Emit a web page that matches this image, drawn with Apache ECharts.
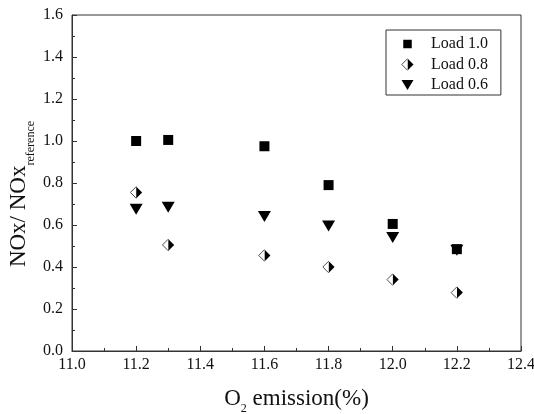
<!DOCTYPE html>
<html>
<head>
<meta charset="utf-8">
<script src="https://cdn.jsdelivr.net/npm/echarts@6/dist/echarts.min.js"></script>
<style>
  html, body { margin: 0; padding: 0; background: #fff; }
  #chart { width: 534px; height: 414px; }
</style>
</head>
<body>
<div id="chart"></div>
<script>
// O2 emission (%) at each operating point
const o2Emission = [11.2, 11.3, 11.6, 11.8, 12.0, 12.2];
// Normalised NOx for each load level
const load10 = [1.0, 1.005, 0.975, 0.79, 0.605, 0.485];
const load08 = [0.755, 0.505, 0.455, 0.40, 0.34, 0.278];
const load06 = [0.675, 0.685, 0.64, 0.595, 0.54, 0.48];
const seriesNames = ['Load 1.0', 'Load 0.8', 'Load 0.6'];
const xTicks = { min: 11.0, max: 12.4, step: 0.2 };
const yTicks = { min: 0.0, max: 1.6, step: 0.2 };

const FONT = '"Liberation Serif", "DejaVu Serif", serif';

function svgIcon(body) {
  const svg = "<svg xmlns='http://www.w3.org/2000/svg' width='26' height='26' viewBox='0 0 26 26'>" + body + "</svg>";
  return 'image://data:image/svg+xml;charset=utf-8,' + encodeURIComponent(svg);
}
// half-filled diamond: open left half, solid right half
const halfDiamond = svgIcon(
  "<path d='M13 1 L25 13 L13 25 Z' fill='#000'/>" +
  "<path d='M13 1.5 L1.5 13 L13 24.5' fill='#fff' stroke='#000' stroke-width='1.4'/>"
);
const squareIcon = svgIcon("<rect x='4.5' y='4.5' width='17' height='17' fill='#000'/>");
const triDownIcon = svgIcon("<path d='M1 3 L25 3 L13 23 Z' fill='#000'/>");

const pairs = ys => o2Emission.map((x, i) => [x, ys[i]]);
const fmt1 = v => v.toFixed(1);

const axisColor = '#333';

const chart = echarts.init(document.getElementById('chart'), null, { renderer: 'canvas' });
chart.setOption({
  animation: false,
  backgroundColor: '#fff',
  grid: {
    left: 72, top: 15, right: 13, bottom: 63,
    outerBoundsMode: 'none',
    containLabel: false,
    show: true, borderColor: axisColor, borderWidth: 1, backgroundColor: 'transparent'
  },
  xAxis: {
    type: 'value',
    min: xTicks.min, max: xTicks.max, interval: xTicks.step,
    axisLine: { show: true, lineStyle: { color: axisColor, width: 1 } },
    axisTick: { show: true, inside: true, length: 5, lineStyle: { color: axisColor } },
    minorTick: { show: true, splitNumber: 2, length: 3, lineStyle: { color: axisColor } },
    splitLine: { show: false },
    axisLabel: { color: '#111', fontFamily: FONT, fontSize: 16, margin: 6, formatter: fmt1 },
    name: '{m|O}{s|2}{m| emission(%)}',
    nameLocation: 'middle',
    nameGap: 36,
    nameTextStyle: {
      rich: {
        m: { fontFamily: FONT, fontSize: 23, color: '#111', padding: [0, 0, 5, 0] },
        s: { fontFamily: FONT, fontSize: 12, color: '#111', verticalAlign: 'bottom' }
      }
    }
  },
  yAxis: {
    type: 'value',
    min: yTicks.min, max: yTicks.max, interval: yTicks.step,
    axisLine: { show: true, lineStyle: { color: axisColor, width: 1 } },
    axisTick: { show: true, inside: true, length: 5, lineStyle: { color: axisColor } },
    minorTick: { show: true, splitNumber: 2, length: 3, lineStyle: { color: axisColor } },
    splitLine: { show: false },
    axisLabel: { color: '#111', fontFamily: FONT, fontSize: 16, margin: 9, formatter: fmt1 }
  },
  graphic: [{
    type: 'text',
    x: 22, y: 194,
    rotation: Math.PI / 2,
    style: {
      text: '{m|NOx/ NOx}{s|reference}',
      align: 'center',
      verticalAlign: 'middle',
      rich: {
        m: { fontFamily: FONT, fontSize: 23, fill: '#111', padding: [0, 0, 6, 0] },
        s: { fontFamily: FONT, fontSize: 12, fill: '#111', verticalAlign: 'bottom' }
      }
    }
  }],
  legend: {
    orient: 'vertical',
    left: 386, top: 30,
    padding: [6, 13, 2, 15],
    borderColor: axisColor, borderWidth: 1,
    itemWidth: 13, itemHeight: 13, itemGap: 4.5,
    textStyle: { fontFamily: FONT, fontSize: 16, color: '#111', padding: [0, 0, 0, 12], lineHeight: 16 },
    data: [
      { name: seriesNames[0], icon: squareIcon },
      { name: seriesNames[1], icon: halfDiamond },
      { name: seriesNames[2], icon: triDownIcon }
    ]
  },
  series: [
    {
      name: seriesNames[0], type: 'scatter', data: pairs(load10),
      symbol: 'rect', symbolSize: 10,
      itemStyle: { color: '#000', opacity: 1 }
    },
    {
      name: seriesNames[1], type: 'scatter', data: pairs(load08),
      symbol: halfDiamond, symbolSize: 13,
      itemStyle: { color: '#000', opacity: 1 }
    },
    {
      name: seriesNames[2], type: 'scatter', data: pairs(load06),
      symbol: 'triangle', symbolSize: [13, 11], symbolRotate: 180,
      itemStyle: { color: '#000', opacity: 1 }
    }
  ]
});
</script>
</body>
</html>
